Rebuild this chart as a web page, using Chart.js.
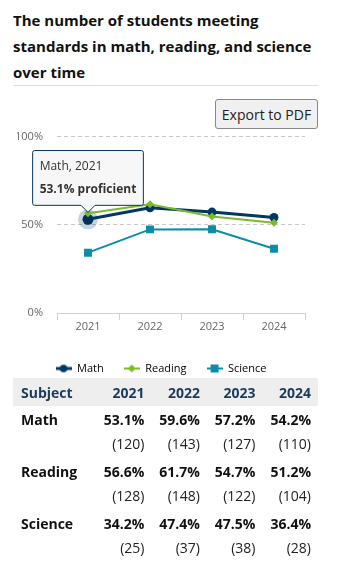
<!DOCTYPE html>
<html>
<head>
<meta charset="utf-8">
<script src="https://cdn.jsdelivr.net/npm/chart.js@4"></script>
<style>
  body { margin: 0; font-family: "Open Sans", sans-serif; color: #111; background: #fff; }
  .wrap { width: 305px; margin-left: 13px; }
  h2 {
    margin: 0; padding-top: 7px; font-size: 15px; font-weight: 700; line-height: 26px;
    border-bottom: 1px solid #ddd; height: 78px;
  }
  .tools { text-align: right; margin-top: 13px; height: 30px; }
  button {
    font-family: "Open Sans", sans-serif; font-size: 14px; color: #222;
    background: #f0f0f0; border: 1px solid #888; border-radius: 3px;
    height: 30px; width: 103px; padding: 0; margin: 0;
  }
  .chart-box { position: relative; width: 305px; height: 268px; margin-top: -13px; }
  table { border-collapse: collapse; width: 305px; margin-top: -6px; position: relative; font-size: 14px; }
  th { background: #eeeeee; color: #1b3a5c; font-weight: 700; height: 28px; padding: 0 7px 0 0; text-align: right; }
  th:first-child { text-align: left; padding-left: 8px; }
  td { padding: 2px 7px 2px 0; line-height: 24px; text-align: right; vertical-align: top; }
  td:first-child { text-align: left; padding-left: 8px; font-weight: 700; }
  td b { font-weight: 700; }
  td span { color: #222; }
</style>
</head>
<body>
<div class="wrap">
  <h2>The number of students meeting standards in math, reading, and science over time</h2>
  <div class="tools"><button>Export to PDF</button></div>
  <div class="chart-box"><canvas id="trend"></canvas></div>
  <table id="results"></table>
</div>
<script>
const years = ["2021", "2022", "2023", "2024"];
const mathPct = [53.1, 59.6, 57.2, 54.2];
const readingPct = [56.6, 61.7, 54.7, 51.2];
const sciencePct = [34.2, 47.4, 47.5, 36.4];
const mathCount = [120, 143, 127, 110];
const readingCount = [128, 148, 122, 104];
const scienceCount = [25, 37, 38, 28];
const yTicks = [0, 50, 100];

const NAVY = "#003863";
const GREEN = "#7cba2a";
const TEAL = "#0b8daa";

// little line+marker icons for the legend
function legendIcon(color, shape, lw) {
  const c = document.createElement("canvas");
  c.width = 16; c.height = 10;
  const g = c.getContext("2d");
  g.strokeStyle = color; g.fillStyle = color; g.lineWidth = lw;
  g.beginPath(); g.moveTo(0, 5); g.lineTo(16, 5); g.stroke();
  g.beginPath();
  if (shape === "circle") g.arc(8, 5, 3.8, 0, Math.PI * 2);
  else if (shape === "diamond") { g.moveTo(8, 1); g.lineTo(12, 5); g.lineTo(8, 9); g.lineTo(4, 5); g.closePath(); }
  else g.rect(4, 1, 8, 8);
  g.fill();
  return c;
}
const icons = [legendIcon(NAVY, "circle", 3), legendIcon(GREEN, "diamond", 2), legendIcon(TEAL, "square", 2)];

// soft ring behind the hovered point
const haloPlugin = {
  id: "halo",
  beforeDatasetsDraw(chart) {
    const { ctx } = chart;
    chart.getActiveElements().forEach(a => {
      ctx.save();
      ctx.fillStyle = "rgba(0,56,99,0.22)";
      ctx.beginPath();
      ctx.arc(a.element.x, a.element.y, 10, 0, Math.PI * 2);
      ctx.fill();
      ctx.restore();
    });
  }
};

const chart = new Chart(document.getElementById("trend"), {
  type: "line",
  data: {
    labels: years,
    datasets: [
      { label: "Math", data: mathPct, order: 1, borderColor: NAVY, backgroundColor: NAVY,
        borderWidth: 3, pointStyle: "circle", pointRadius: 4.5, pointHoverRadius: 5.5,
        pointHoverBorderWidth: 0, pointBorderWidth: 0 },
      { label: "Reading", data: readingPct, order: 0, borderColor: GREEN, backgroundColor: GREEN,
        borderWidth: 2, pointStyle: "rectRot", pointRadius: 4, pointBorderWidth: 0 },
      { label: "Science", data: sciencePct, order: 2, borderColor: TEAL, backgroundColor: TEAL,
        borderWidth: 2, pointStyle: "rect", pointRadius: 5.6, pointBorderWidth: 0 }
    ]
  },
  options: {
    responsive: true,
    maintainAspectRatio: false,
    animation: false,
    events: [],
    layout: { padding: { top: 6, right: 13, left: 4, bottom: 0 } },
    scales: {
      y: {
        min: 0, max: 100,
        afterFit: s => { s.width = 40; },
        afterBuildTicks: s => { s.ticks = yTicks.map(v => ({ value: v })); },
        ticks: { padding: 14, color: "#666", font: { family: "Open Sans", size: 11 }, callback: v => v + "%" },
        grid: { drawTicks: false, color: c => c.tick.value === 0 ? "transparent" : "#c8c8c8" },
        border: { display: false, dash: [4, 3] }
      },
      x: {
        offset: true,
        afterFit: s => { s.height = 30; },
        grid: { offset: true, drawOnChartArea: false, drawTicks: true, tickLength: 7, color: "#c3d4e6" },
        border: { display: true, color: "#c3d4e6" },
        ticks: { padding: 0, color: "#666", font: { family: "Open Sans", size: 11 } }
      }
    },
    plugins: {
      legend: {
        position: "bottom",
        labels: {
          usePointStyle: true,
          pointStyleWidth: 16,
          boxHeight: 10,
          padding: 20,
          color: "#555",
          font: { family: "Open Sans", size: 11 },
          generateLabels: ch => ch.data.datasets.map((d, i) => ({
            text: d.label, pointStyle: icons[i], fillStyle: d.borderColor,
            strokeStyle: d.borderColor, lineWidth: 0, hidden: false, datasetIndex: i
          }))
        }
      },
      tooltip: {
        backgroundColor: "rgba(247,247,247,0.95)",
        borderColor: NAVY,
        borderWidth: 1,
        cornerRadius: 2,
        titleColor: "#333",
        bodyColor: "#333",
        titleFont: { family: "Open Sans", size: 12, weight: "normal" },
        bodyFont: { family: "Open Sans", size: 12, weight: "bold" },
        titleMarginBottom: 8,
        padding: { x: 7, y: 9 },
        caretSize: 7,
        caretPadding: 7,
        displayColors: false,
        yAlign: "bottom",
        xAlign: "center",
        callbacks: {
          title: items => `${items[0].dataset.label}, ${items[0].label}`,
          label: item => `${item.parsed.y}% proficient`
        }
      }
    }
  },
  plugins: [haloPlugin]
});

const active = [{ datasetIndex: 0, index: 0 }];
chart.setActiveElements(active);
const pt = chart.getDatasetMeta(0).data[0];
chart.tooltip.setActiveElements(active, { x: pt.x, y: pt.y });
chart.update();

// results table
const rows = [
  ["Math", mathPct, mathCount],
  ["Reading", readingPct, readingCount],
  ["Science", sciencePct, scienceCount]
];
let html = "<tr><th>Subject</th>" + years.map(y => `<th>${y}</th>`).join("") + "</tr>";
rows.forEach(([name, pct, n]) => {
  html += `<tr><td>${name}</td>`;
  pct.forEach((p, i) => {
    html += `<td><b>${p.toFixed(1)}%</b><br><span>(${n[i]})</span></td>`;
  });
  html += "</tr>";
});
document.getElementById("results").innerHTML = html;
</script>
</body>
</html>
